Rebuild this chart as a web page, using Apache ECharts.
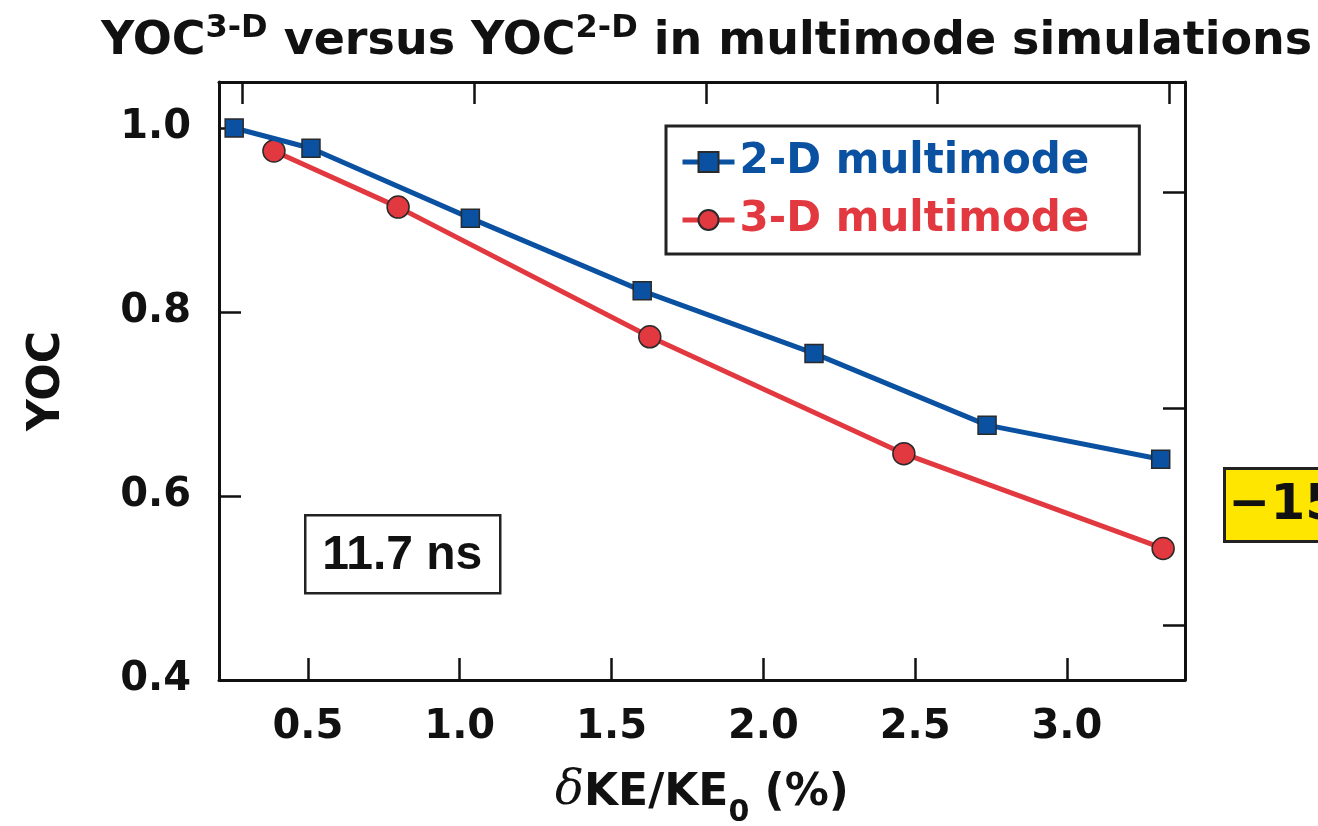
<!DOCTYPE html>
<html>
<head>
<meta charset="utf-8">
<script src="https://cdn.jsdelivr.net/npm/echarts@6/dist/echarts.min.js"></script>
<style>
  html, body { margin: 0; padding: 0; background: #ffffff; }
  #chart { width: 1318px; height: 826px; }
</style>
</head>
<body>
<div id="chart"></div>
<script>
// Yield-over-clean values for the two simulation sets, against δKE/KE0 (%)
const seriesNames = ['2-D multimode', '3-D multimode'];
const blueX = [0.257, 0.510, 1.035, 1.601, 2.167, 2.737, 3.309];
const blueY = [1.000, 0.978, 0.902, 0.823, 0.755, 0.677, 0.640];
const redX = [0.388, 0.797, 1.626, 2.463, 3.317];
const redY = [0.975, 0.914, 0.773, 0.646, 0.543];

// Tick positions
const xTicks = [0.5, 1.0, 1.5, 2.0, 2.5, 3.0];
const yTicks = [0.4, 0.6, 0.8, 1.0];
const topTicks = [0, 1, 2, 3, 4];
const rightTicks = [0, 1, 2];

// Annotations
const timeLabel = '11.7 ns';
const changeLabel = '\u221215%';

const BLUE = '#0a51a1';
const RED = '#e1393f';
const INK = '#111111';
const WIDE = '"DejaVu Sans", sans-serif';
const NARROW = '"Liberation Sans", Arial, sans-serif';

function pairs(xs, ys) { return xs.map((x, i) => [x, ys[i]]); }

const frameLine = { show: true, onZero: false, lineStyle: { color: INK, width: 3 } };
const tickStyle = { color: INK, width: 2.5 };

const chart = echarts.init(document.getElementById('chart'), null, { renderer: 'canvas' });

chart.setOption({
  backgroundColor: '#ffffff',
  animation: false,
  title: {
    text: '{m|YOC}{s|3-D}{m| versus YOC}{s|2-D}{m| in multimode simulations}',
    left: 96,
    top: 8,
    textStyle: {
      rich: {
        m: { fontFamily: WIDE, fontWeight: 'bold', fontSize: 46, color: INK, lineHeight: 52, verticalAlign: 'bottom' },
        s: { fontFamily: WIDE, fontWeight: 'bold', fontSize: 32, color: INK, lineHeight: 34, verticalAlign: 'top' }
      }
    }
  },
  legend: {
    orient: 'vertical',
    left: 666,
    top: 126,
    padding: [15, 50, 13, 14],
    itemGap: 16,
    itemWidth: 52,
    itemHeight: 25,
    borderColor: '#222222',
    borderWidth: 3,
    backgroundColor: '#ffffff',
    textStyle: { fontFamily: WIDE, fontWeight: 'bold', fontSize: 42 },
    data: [
      { name: seriesNames[0], textStyle: { color: BLUE }, lineStyle: { width: 5 } },
      { name: seriesNames[1], textStyle: { color: RED }, lineStyle: { width: 5 } }
    ]
  },
  grid: { left: 219, top: 82, width: 966, height: 598, containLabel: false, outerBoundsMode: 'none' },
  xAxis: [
    {
      type: 'value',
      position: 'bottom',
      min: 0.207,
      max: 3.389,
      axisLine: frameLine,
      axisTick: { show: true, inside: true, length: 22, lineStyle: tickStyle, customValues: xTicks },
      axisLabel: {
        customValues: xTicks,
        formatter: v => v.toFixed(1),
        margin: 28,
        fontFamily: WIDE, fontWeight: 'bold', fontSize: 40, color: INK
      },
      splitLine: { show: false },
      name: '{d|δ}{t|KE/KE}{b|0}{t| (%)}',
      nameLocation: 'middle',
      nameGap: 84,
      nameTextStyle: {
        rich: {
          d: { fontFamily: '"DejaVu Serif", serif', fontStyle: 'italic', fontSize: 48, color: INK, lineHeight: 52, verticalAlign: 'bottom' },
          t: { fontFamily: WIDE, fontWeight: 'bold', fontSize: 44, color: INK, lineHeight: 50, verticalAlign: 'bottom' },
          b: { fontFamily: WIDE, fontWeight: 'bold', fontSize: 30, color: INK, lineHeight: 36, verticalAlign: 'bottom', padding: [0, 0, -12, 0] }
        }
      }
    },
    {
      type: 'value',
      position: 'top',
      min: -0.1,
      max: 4.067,
      axisLine: frameLine,
      axisTick: { show: true, inside: true, length: 22, lineStyle: tickStyle, customValues: topTicks },
      axisLabel: { show: false },
      splitLine: { show: false }
    }
  ],
  yAxis: [
    {
      type: 'value',
      position: 'left',
      min: 0.4,
      max: 1.05,
      axisLine: frameLine,
      axisTick: { show: true, inside: true, length: 22, lineStyle: tickStyle, customValues: yTicks },
      axisLabel: {
        customValues: yTicks,
        formatter: v => v.toFixed(1),
        margin: 28,
        fontFamily: WIDE, fontWeight: 'bold', fontSize: 40, color: INK
      },
      splitLine: { show: false },
      name: 'YOC',
      nameLocation: 'middle',
      nameRotate: 90,
      nameGap: 149,
      nameTextStyle: { fontFamily: WIDE, fontWeight: 'bold', fontSize: 44, color: INK }
    },
    {
      type: 'value',
      position: 'right',
      min: -0.254,
      max: 2.508,
      axisLine: frameLine,
      axisTick: { show: true, inside: true, length: 22, lineStyle: tickStyle, customValues: rightTicks },
      axisLabel: { show: false },
      splitLine: { show: false }
    }
  ],
  series: [
    {
      name: seriesNames[1],
      type: 'line',
      xAxisIndex: 0,
      yAxisIndex: 0,
      data: pairs(redX, redY),
      symbol: 'circle',
      symbolSize: 22,
      lineStyle: { color: RED, width: 5 },
      itemStyle: { color: RED, borderColor: '#2a2a2a', borderWidth: 1.5 },
      z: 3
    },
    {
      name: seriesNames[0],
      type: 'line',
      xAxisIndex: 0,
      yAxisIndex: 0,
      data: pairs(blueX, blueY),
      symbol: 'rect',
      symbolSize: 18,
      lineStyle: { color: BLUE, width: 5 },
      itemStyle: { color: BLUE, borderColor: '#2a2a2a', borderWidth: 1.5 },
      z: 4
    }
  ],
  graphic: [
    {
      type: 'group',
      left: 304,
      top: 514,
      children: [
        { type: 'rect', shape: { x: 0, y: 0, width: 195, height: 78 }, style: { fill: '#ffffff', stroke: '#222222', lineWidth: 2.5 } },
        {
          type: 'text', x: 97, y: 41,
          style: { text: timeLabel, fontFamily: NARROW, fontWeight: 'bold', fontSize: 48, fill: INK, align: 'center', verticalAlign: 'middle' }
        }
      ]
    },
    {
      type: 'group',
      left: 1223,
      top: 467,
      children: [
        { type: 'rect', shape: { x: 0, y: 0, width: 140, height: 73 }, style: { fill: '#ffe600', stroke: '#222222', lineWidth: 3 } },
        {
          type: 'text', x: 4, y: 38,
          style: { text: changeLabel, fontFamily: WIDE, fontWeight: 'bold', fontSize: 50, fill: INK, align: 'left', verticalAlign: 'middle' }
        }
      ]
    }
  ]
});
</script>
</body>
</html>
